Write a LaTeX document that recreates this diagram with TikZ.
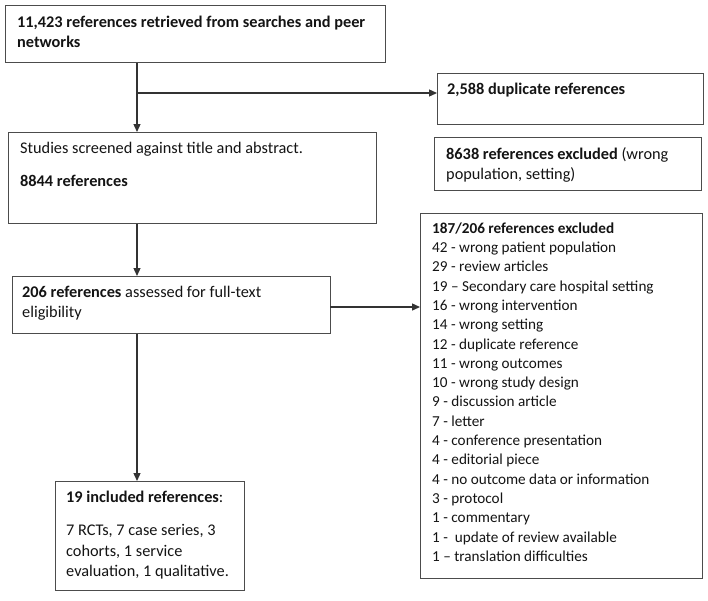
\documentclass[tikz,border=0pt]{standalone}
\usepackage{fontspec}
\setmainfont{Carlito}
\usetikzlibrary{arrows.meta}
\newcommand\fl{\rule{0pt}{13pt}}
\begin{document}
\begin{tikzpicture}[x=1pt,y=-1pt,
  box/.style={draw=black!70, line width=1.4pt, inner sep=0pt, anchor=north west},
  txt/.style={anchor=north west, inner sep=0pt, align=left, text=black!92,
    font=\fontsize{16.3}{20.5}\selectfont},
  conn/.style={draw=black!80, line width=1.3pt, -{Triangle[length=8pt,width=7pt]}}]
\useasboundingbox[fill=white] (0,0) rectangle (708,600);
% boxes
\node[box, minimum width=380pt, minimum height=57pt] (b1) at (5,5) {};
\node[box, minimum width=266pt, minimum height=51pt] (dup) at (437,73) {};
\node[box, minimum width=368pt, minimum height=91pt] (b2) at (8,132) {};
\node[box, minimum width=267pt, minimum height=53pt] (exa) at (434,137) {};
\node[box, minimum width=318pt, minimum height=57pt] (b3) at (12,276) {};
\node[box, minimum width=282pt, minimum height=365pt] (exb) at (420,213) {};
\node[box, minimum width=189pt, minimum height=109pt] (b4) at (55,481) {};
% texts
\node[txt] (t1) at (17,14) {\fl\textbf{11,423 references retrieved from searches and peer}\\\textbf{networks}};
\node[txt] (tdup) at (447,81) {\fl\textbf{2,588 duplicate references}};
\node[txt] (t2) at (20,140) {\fl Studies screened against title and abstract.\\[12.5pt]\textbf{8844 references}};
\node[txt] (texa) at (446,146) {\fl\textbf{8638 references excluded} (wrong\\population, setting)};
\node[txt] (t3) at (22,284) {\fl\textbf{206 references} assessed for full-text\\eligibility};
\node[txt, font=\fontsize{15.2}{19.3}\selectfont] (texb) at (432,220) {\fl\textbf{187/206 references excluded}\\
42 - wrong patient population\\
29 - review articles\\
19 -- Secondary care hospital setting\\
16 - wrong intervention\\
14 - wrong setting\\
12 - duplicate reference\\
11 - wrong outcomes\\
10 - wrong study design\\
9 - discussion article\\
7 - letter\\
4 - conference presentation\\
4 - editorial piece\\
4 - no outcome data or information\\
3 - protocol\\
1 - commentary\\
1 -\ \ update of review available\\
1 -- translation difficulties};
\node[txt] (t4) at (66,489) {\fl\textbf{19 included references}:\\[13pt]7 RCTs, 7 case series, 3\\cohorts, 1 service\\evaluation, 1 qualitative.};
% connectors
\coordinate (ax) at (137,0);
\coordinate (j1) at (137,93);
\draw[conn] (b1.south -| ax) -- (b2.north -| ax);
\draw[conn] (j1) -- (j1 -| dup.west);
\draw[conn] (b2.south -| ax) -- (b3.north -| ax);
\coordinate (j2) at (330,307);
\draw[conn] (j2) -- (j2 -| exb.west);
\draw[conn] (b3.south -| ax) -- (b4.north -| ax);
\end{tikzpicture}
\end{document}
